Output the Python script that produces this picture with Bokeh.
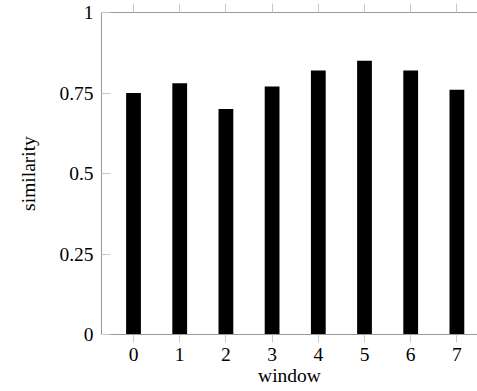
from bokeh.plotting import figure
from bokeh.models import Range1d, FixedTicker, LinearAxis
from bokeh.embed import file_html
from bokeh.resources import INLINE

windows = [0, 1, 2, 3, 4, 5, 6, 7]
similarity = [0.75, 0.78, 0.70, 0.77, 0.82, 0.85, 0.82, 0.76]
y_ticks = [0, 0.25, 0.5, 0.75, 1]
y_tick_labels = ["0", "0.25", "0.5", "0.75", "1"]

FONT = "Liberation Serif"
FS = "19.5px"
AXIS_COL = "#999999"
TICK_COL = "#c8c8c8"

p = figure(width=477, height=391, output_backend="svg", toolbar_location=None,
           x_range=Range1d(-0.693, 7.446), y_range=Range1d(0, 1),
           min_border_left=101, min_border_right=0, min_border_top=12,
           min_border_bottom=57, x_axis_location="below")
p.outline_line_color = None
p.xgrid.visible = False
p.ygrid.visible = False
p.background_fill_color = "white"
p.border_fill_color = "white"

p.vbar(x=windows, top=similarity, bottom=0, width=0.32,
       fill_color="black", line_color=None)

# bottom x axis
xa = p.xaxis[0]
xa.ticker = FixedTicker(ticks=windows)
xa.minor_tick_line_color = None
xa.major_tick_in = 0
xa.major_tick_out = 8
xa.major_tick_line_color = TICK_COL
xa.axis_line_color = AXIS_COL
xa.major_label_text_font = FONT
xa.major_label_text_font_size = FS
xa.major_label_text_color = "black"
xa.major_label_standoff = 5
xa.axis_label = "window"
xa.axis_label_text_font = FONT
xa.axis_label_text_font_size = FS
xa.axis_label_text_font_style = "normal"
xa.axis_label_text_color = "black"
xa.axis_label_standoff = 1

# left y axis
ya = p.yaxis[0]
ya.ticker = FixedTicker(ticks=y_ticks)
ya.major_label_overrides = {t: l for t, l in zip(y_ticks, y_tick_labels)}
ya.minor_tick_line_color = None
ya.major_tick_in = 9
ya.major_tick_out = 0
ya.major_tick_line_color = TICK_COL
ya.axis_line_color = AXIS_COL
ya.major_label_text_font = FONT
ya.major_label_text_font_size = FS
ya.major_label_text_color = "black"
ya.major_label_standoff = 8
ya.axis_label = "similarity"
ya.axis_label_text_font = FONT
ya.axis_label_text_font_size = FS
ya.axis_label_text_font_style = "normal"
ya.axis_label_text_color = "black"
ya.axis_label_standoff = 17

# top axis: ticks only
top = LinearAxis(ticker=FixedTicker(ticks=windows))
top.minor_tick_line_color = None
top.major_tick_in = 0
top.major_tick_out = 9
top.major_tick_line_color = TICK_COL
top.axis_line_color = AXIS_COL
top.major_label_text_font_size = "0px"
top.major_label_standoff = 0
top.major_label_overrides = {t: "" for t in windows}
p.add_layout(top, "above")

open("out.html", "w").write(file_html(p, INLINE))
